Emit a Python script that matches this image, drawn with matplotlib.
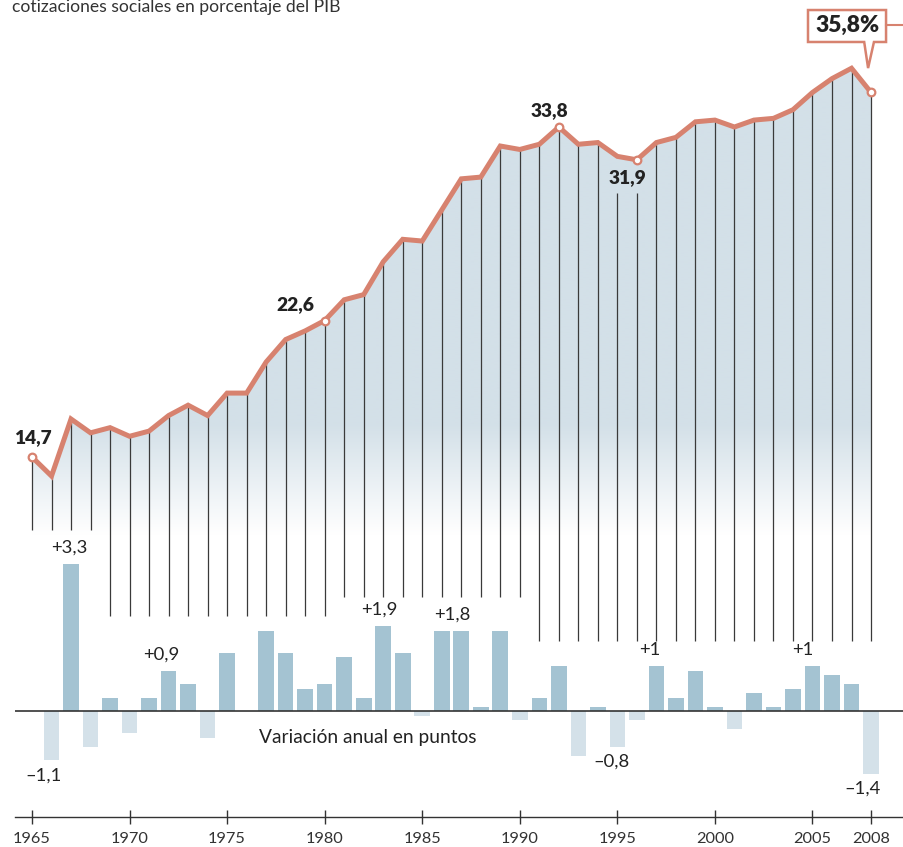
import numpy as np
import matplotlib
matplotlib.use('Agg')
import matplotlib.pyplot as plt
from matplotlib.patches import Polygon
from matplotlib.colors import to_rgb

plt.rcParams['font.family'] = ['Lato', 'DejaVu Sans']

# ---------------- data ----------------
years = np.arange(1965, 2009)
pib_share = [14.7, 13.6, 16.9, 16.1, 16.4, 15.9, 16.2, 17.1, 17.7, 17.1,
             18.4, 18.4, 20.2, 21.5, 22.0, 22.6, 23.8, 24.1, 26.0, 27.3,
             27.2, 29.0, 30.8, 30.9, 32.7, 32.5, 32.8, 33.8, 32.8, 32.9,
             32.1, 31.9, 32.9, 33.2, 34.1, 34.2, 33.8, 34.2, 34.3, 34.8,
             35.8, 36.6, 37.2, 35.8]
variation = [np.nan, -1.1, 3.3, -0.8, 0.3, -0.5, 0.3, 0.9, 0.6, -0.6,
             1.3, 0.0, 1.8, 1.3, 0.5, 0.6, 1.2, 0.3, 1.9, 1.3,
             -0.1, 1.8, 1.8, 0.1, 1.8, -0.2, 0.3, 1.0, -1.0, 0.1,
             -0.8, -0.2, 1.0, 0.3, 0.9, 0.1, -0.4, 0.4, 0.1, 0.5,
             1.0, 0.8, 0.6, -1.4]
highlight_years = [1965, 1980, 1992, 1996, 2008]
highlight_labels = ['14,7', '22,6', '33,8', '31,9', '35,8%']
bar_label_years = [1966, 1967, 1972, 1983, 1987, 1995, 1997, 2005, 2008]
bar_labels = ['\u20131,1', '+3,3', '+0,9', '+1,9', '+1,8', '\u20130,8', '+1', '+1', '\u20131,4']
tick_years = [1965, 1970, 1975, 1980, 1985, 1990, 1995, 2000, 2005, 2008]
title = 'cotizaciones sociales en porcentaje del PIB'
subtitle = 'Variación anual en puntos'

pib_share = np.array(pib_share)
variation = np.array(variation)

# ---------------- style ----------------
LINE_C = '#d7826f'
FILL_C = '#d3e0e8'
POS_C = '#a4c3d2'
NEG_C = '#d4e1e9'
TXT_C = '#222222'
STEM_C = '#3a3a3a'

W, H = 904, 847
fig = plt.figure(figsize=(W / 100, H / 100), dpi=100)
XL = (1963.36, 2009.69)
ax = fig.add_axes([0, 0, 1, 1])       # top: share of GDP
axb = fig.add_axes([0, 0, 1, 1])      # bottom: annual variation
for a in (ax, axb):
    a.set_xlim(*XL)
    a.patch.set_visible(False)
ax.set_ylim(-7.87, 41.15)
axb.set_ylim(-3.04, 15.91)
ax.axis('off')
for s in ['top', 'left', 'right']:
    axb.spines[s].set_visible(False)
axb.set_yticks([])

# ---------- gradient area ----------
fill_bottom = 9.8
grad_y = np.linspace(fill_bottom, 41, 400)
t = np.clip((grad_y - 10.2) / (16.6 - 10.2), 0, 1)
c0 = np.array(to_rgb('white'))
c1 = np.array(to_rgb(FILL_C))
rgb = c0[None, :] * (1 - t[:, None]) + c1[None, :] * t[:, None]
img = rgb[:, None, :]
im = ax.imshow(img, extent=[years[0], years[-1], fill_bottom, 41], origin='lower',
               aspect='auto', interpolation='bilinear', zorder=1)
verts = [(years[0], fill_bottom)] + list(zip(years, pib_share)) + [(years[-1], fill_bottom)]
clip = Polygon(verts, closed=True, facecolor='none', edgecolor='none', transform=ax.transData)
ax.add_patch(clip)
im.set_clip_path(clip)
ax.set_xlim(*XL)
ax.set_ylim(-7.87, 41.15)

# ---------- stems ----------
stem_bottom = np.where(years <= 1968, 10.5,
               np.where(years <= 1980, 5.5,
               np.where(years <= 1990, 6.6, 4.05)))
stem_top = pib_share.copy()
stem_top[(years == 1995) | (years == 1996)] = 30.0
ax.vlines(years, stem_bottom, stem_top, color=STEM_C, lw=0.9, zorder=2)

# ---------- line ----------
ax.plot(years, pib_share, color=LINE_C, lw=3.6, zorder=4, solid_joinstyle='miter',
        solid_capstyle='butt')
hl_mask = np.isin(years, highlight_years)
ax.plot(years[hl_mask], pib_share[hl_mask], 'o', ms=5.5, mfc='white', mec=LINE_C,
        mew=1.6, zorder=5)

# bold labels
lab_off = {1965: (0.05, 1.1, 'center'), 1980: (-1.5, 0.95, 'center'),
           1992: (-0.5, 0.95, 'center'), 1996: (-0.5, -1.0, 'center')}
for yr, lab in zip(highlight_years[:-1], highlight_labels[:-1]):
    v = pib_share[years == yr][0]
    dx, dy, ha = lab_off[yr]
    ax.text(yr + dx, v + dy, lab, ha=ha, va='center', fontsize=13.8,
            fontweight='heavy', color=TXT_C, zorder=6)

# callout box for last value
last_v = pib_share[-1]
tip = (years[-1] - 0.15, last_v + 1.41)
bx0, bx1 = 2004.77, 2008.77
by0, by1 = 38.72, 40.57
callout = [(bx0, by0), (2007.65, by0), tip, (2008.15, by0), (bx1, by0), (bx1, by1),
           (bx0, by1)]
ax.add_patch(Polygon(callout, closed=True, facecolor='white', edgecolor=LINE_C,
                     lw=1.8, zorder=6, joinstyle='miter'))
ax.plot([bx1, XL[1]], [(by0 + by1) / 2 + 0.05] * 2, color=LINE_C, lw=1.5, zorder=6)
ax.text((bx0 + bx1) / 2 + 0.05, (by0 + by1) / 2 + 0.02, highlight_labels[-1],
        ha='center', va='center', fontsize=16.5, fontweight='heavy', color=TXT_C, zorder=7)

# title
ax.text(XL[0] + 12 / 19.51, 14.7 + (457 - 12) / 17.28, title, ha='left',
        va='baseline', fontsize=12.6, color='#333333')

# ---------- bars ----------
colors = [POS_C if v >= 0 else NEG_C for v in np.nan_to_num(variation)]
axb.bar(years, np.nan_to_num(variation), width=0.8, color=colors, zorder=2)
axb.hlines(0, 1964.15, XL[1], color='#333333', lw=1.2, zorder=3)

bar_dx = {1966: -0.4, 1967: -0.1, 1972: -0.4, 1983: -0.2, 1987: -0.45,
          1995: -0.3, 1997: -0.35, 2005: -0.5, 2008: -0.45}
for yr, lab in zip(bar_label_years, bar_labels):
    v = variation[years == yr][0]
    dy = 0.36 if v > 0 else -0.34
    axb.text(yr + bar_dx[yr], v + dy, lab, ha='center', va='center',
             fontsize=13.3, color=TXT_C, zorder=4)

axb.text(1982.2, -0.6, subtitle, ha='center', va='center', fontsize=13.8,
         color=TXT_C, zorder=4)

# ---------- x axis ----------
axb.spines['bottom'].set_position(('data', -2.37))
axb.spines['bottom'].set_bounds(1964.15, XL[1])
axb.spines['bottom'].set_color('#333333')
axb.spines['bottom'].set_linewidth(1.0)
axb.set_xticks(tick_years)
axb.set_xticklabels([str(y) for y in tick_years])
axb.tick_params(axis='x', direction='inout', length=10, width=1.0, color='#333333',
                labelsize=11.8, labelcolor='#333333', pad=6)

fig.savefig('out.png', dpi=100)
